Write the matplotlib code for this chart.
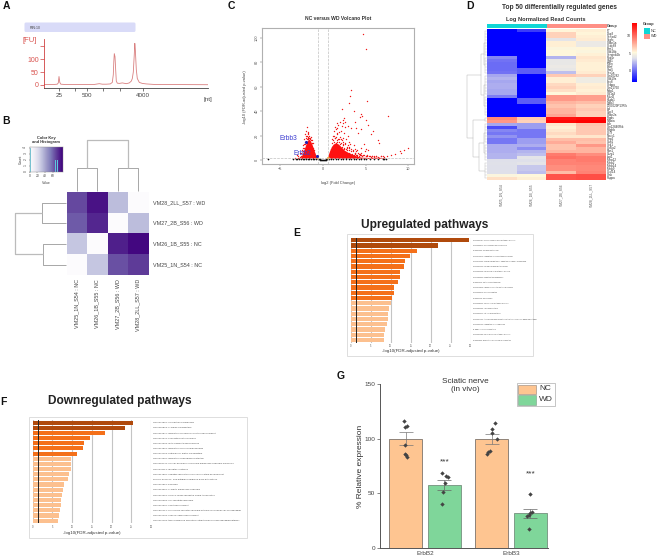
import numpy as np
import matplotlib
matplotlib.use('Agg')
import matplotlib.pyplot as plt
from matplotlib.colors import LinearSegmentedColormap, ListedColormap
from matplotlib.patches import Rectangle, FancyBboxPatch

plt.rcParams['font.family'] = ['Liberation Sans', 'DejaVu Sans']

W, H = 657, 558

# A: electropherogram
trace_pos = [0, 10, 13, 14, 14.7, 15.5, 16.5, 20, 50, 55, 58, 62, 66, 68, 69, 69.5, 70, 70.7, 71.5, 72, 73, 75, 78, 82,
             85, 87, 88, 89, 90, 90.5, 91, 92, 93, 95, 98, 102, 110, 163.7]
trace_fu = [2, 2, 3, 8, 33, 10, 3, 2, 2, 5, 3, 3, 4, 10, 40, 90, 122, 110, 50, 15, 7, 6, 8, 5,
            8, 15, 25, 50, 120, 162, 140, 60, 25, 10, 6, 4, 2, 1]
nt_ticks = [14.7, 31, 42.7, 58.3, 75.7, 98.7]
nt_labels = ['25', '', '500', '', '', '4000']

# B: sample distance heatmap
samples_row = ['VM28_2LL_S57 : WD', 'VM27_2B_S56 : WD', 'VM26_1B_S55 : NC', 'VM25_1N_S54 : NC']
samples_col = ['VM25_1N_S54 : NC', 'VM26_1B_S55 : NC', 'VM27_2B_S56 : WD', 'VM28_2LL_S57 : WD']
dist = [[62, 75, 30, 0],
        [58, 70, 0, 30],
        [27, 0, 72, 78],
        [0, 27, 60, 65]]
key_vals = [27, 63, 67, 72, 76]
key_counts = [2, 2, 2, 2, 2]

# C: volcano
red_x = [-3.3, -3.0, -2.9, -2.7, -2.6, -2.5, -2.4, -2.4, -2.3, -2.3, -2.2, -2.2, -2.1, -2.1, -2.0, -2.0, -1.9, -1.9, -1.8,
         -1.8, -1.7, -1.7, -1.6, -1.6, -1.5, -1.4, -1.3, -1.2, -1.1, -1.0, -0.9, 0.9, 1.0, 1.0, 1.1, 1.1, 1.2, 1.2, 1.3, 1.3,
         1.4, 1.4, 1.5, 1.5, 1.6, 1.6, 1.7, 1.7, 1.8, 1.8, 1.9, 1.9, 2.0, 2.0, 2.1, 2.1, 2.2, 2.2, 2.3, 2.3, 2.4, 2.5, 2.5,
         2.6, 2.6, 2.7, 2.8, 2.8, 2.9, 3.0, 3.0, 3.1, 3.2, 3.2, 3.3, 3.3, 3.4, 3.5, 3.6, 3.6, 3.7, 3.8, 3.9, 4.0, 4.0, 4.1,
         4.2, 4.3, 4.4, 4.5, 4.5, 4.6, 4.7, 4.8, 4.9, 5.0, 5.0, 5.2, 5.3, 5.5, 5.6, 5.8, 6.0, 6.2, 6.4, 6.6, 6.8, 7.0, 7.1,
         7.5, 8.0, 8.5, 9.0, 9.1, 9.5, 10.0, 3.3, 3.2, 3.0, 3.6, 4.5, 5.2, 4.6, 5.0, 5.0, 7.6, 2.2, 2.5, 2.6, 2.4, 2.9,
         3.7, 3.9, 4.3, 4.7, 5.3, 5.9, 6.6,
         1.2, 1.4, 1.6, 1.8, 2.0, 2.2, 2.4, 2.6, 2.8, 3.0, 1.3, 1.5, 1.7, 1.9, 2.1, 2.3, 2.5, 2.7, 2.9, 3.1,
         3.3, 3.5, 3.7, 3.9, 4.1, 4.3, 3.4, 3.6, 3.8, 4.0, 4.2, 4.4, 4.6, 4.8, 5.0, 5.2, 5.4, 5.6, 5.8, 6.0, 6.2, 6.5, 6.8, 7.2,
         -2.6, -2.4, -2.2, -2.5, -2.3, -2.1, -1.9, -2.0, -1.8, -1.6, -1.7, -1.5, -1.4, -1.3, -1.2, -2.8, -2.7, -2.9]
red_y = [2, 4, 2, 6, 3, 8, 5, 2, 12, 7, 17, 10, 21, 13, 24, 18, 27, 20, 23, 18, 22, 17, 20, 16, 18, 16, 14, 10, 8, 6, 4, 9, 6, 14,
         17, 11, 20, 8, 24, 15, 18, 27, 25, 14, 21, 30, 16, 26, 29, 12, 23, 17, 19, 31, 14, 24, 28, 11, 18, 33, 15, 9, 22,
         13, 27, 17, 8, 11, 20, 6, 15, 10, 5, 13, 9, 26, 4, 7, 12, 3, 9, 6, 4, 8, 3, 22, 5, 4, 10, 6, 25, 3, 4, 13, 7, 3, 9, 4, 8, 3, 21, 3,
         3, 3, 16, 2, 3, 3, 2, 3, 4, 5, 7, 6, 8, 10, 57, 52, 47, 40, 38, 48, 36, 33, 91, 36, 42, 34, 31, 30, 28, 31, 26, 35, 103, 29, 24, 14,
         16, 18, 15, 17, 13, 16, 12, 14, 10, 11, 20, 19, 22, 15, 17, 13, 10, 9, 12, 8,
         7, 8, 6, 7, 6, 5, 5, 4, 5, 4, 3.5, 4, 3, 4, 3, 3.5, 3, 2.5, 3.5, 2.5, 3, 2.5, 3.5, 2.5,
         6, 10, 13, 3, 5, 15, 17, 20, 19, 18, 21, 17, 19, 16, 14, 2, 2.5, 3.5]
left_env_x = [-2.7, -2.5, -2.3, -2.1, -1.9, -1.7, -1.5, -1.3, -1.1, -0.9, -0.7]
left_env_y = [1.5, 3.5, 7, 11, 15, 17, 16, 13, 9, 5, 1.5]
right_env_x = [0.45, 0.6, 0.8, 1.0, 1.2, 1.5, 1.8, 2.1, 2.5, 3, 3.5, 4, 4.5, 5.5, 6.5, 7.3]
right_env_y = [1.3, 4, 8, 11, 13, 14, 13, 11, 8, 6, 4.5, 3, 2.3, 2, 2.3, 1.5]
black_x = [-6.4, -3.5, -3.2, -3.0, -2.8, -2.6, -2.4, -2.2, -2.0, -1.8, -1.6, -1.4, -1.2, -1.0, -0.8, -0.6, -0.5, -0.4, -0.3, -0.2,
           -0.1, 0.0, 0.1, 0.2, 0.3, 0.4, 0.5, 0.7, 0.9, 1.2, 1.5, 1.8, 2.1, 2.4, 2.7, 3.0, 3.3, 3.6, 3.9, 4.2, 4.5, 4.8,
           5.1, 5.5, 6.0, 6.5, 7.0, 7.2, 7.4]
black_y = [0.9, 1, 1, 0.8, 1, 0.9, 1, 0.7, 1, 0.8, 1, 0.9, 0.7, 1, 0.8, 1, 0.6, 0.5, 0.3, 0.2,
           0.1, 0.1, 0.1, 0.2, 0.3, 0.5, 0.7, 0.9, 0.8, 1, 0.7, 1, 0.8, 1, 0.9, 1, 0.8, 1, 0.6, 1, 0.9, 0.7,
           1, 0.8, 1, 0.7, 1, 0.6, 0.9]
orange_x = [-0.75, -0.7, -0.65, -0.6, -0.55, 0.45, 0.5, 0.55, 0.6, 0.65]
orange_y = [1.6, 2.3, 2.6, 1.8, 1.4, 1.4, 1.8, 2.6, 2.2, 1.6]
erbb_x = [-2.0, -0.74]
erbb_y = [14.7, 3]
erbb_names = ['Erbb3', 'Erbb2']

# D: top 50 genes heatmap
genes = ['F7', 'Dap3', 'Sertad2', 'Vegfc', 'Cdkn1a', 'Ccdc68', 'Bmi1', 'Cdk18b', 'Serpinb2b', 'Ppp1r', 'Sgk1', 'Mbln', 'Bdnf',
         'Stat5', 'Sec1a', 'Gm10282', 'Cdk19a', 'Lhx8', 'Cebpa', 'Gm21760', 'Mgp1', 'Slc1a3', 'Mpzl2', 'Hspb1', 'Tgfb3',
         '1700029P13Rik', 'Lpl', 'Gpx3', 'Cdkn2a', 'Ptgds', 'Nfkbia', 'Ldlr', 'Gm12840Rik', 'Pdgfrb', 'Ccl9', 'Nfatc1',
         'Sfrp2', 'Gstt1', 'Scd1', 'Col5a2', 'Fbn1', 'Csrp1', 'Lsp1', 'Mmp12', 'Mmp2', 'Mmp14', 'Mmp9', 'Cxcl14', 'Ctsk', 'Pappa']
expr_nc1 = [-3.3, -3.3, -3.3, -3.3, -3.3, -3.3, -3.3, -3.3, -3.3, 0.8, 0.2, 0.0, 0.0, 0.0, 0.2, 1.8, 2.2, 1.8, 2.0, 2.0, 1.8,
            1.8, 0.5, -3.3, -3.3, -3.3, -3.3, -3.3, -3.3, 9.0, 8.5, 1.8, -1.0, 0.8, 0.3, 1.2, 0.3, 0.3, 2.0, 2.0, 2.0, 2.2, 2.2,
            3.5, 3.6, 3.5, 3.5, 3.5, 5.0, 6.0]
expr_nc2 = [-1.5, -3.3, -3.3, -3.3, -3.3, -3.3, -3.3, -3.3, -3.3, -3.3, -3.3, -3.3, -3.3, -0.5, -0.5, -3.3, -3.3, -3.3, -3.3,
            -3.3, -3.3, -3.3, -3.3, -0.5, -0.5, -3.3, -3.3, -3.3, -3.3, 6.8, 6.5, 1.5, 1.5, 0.3, 0.3, 0.3, 1.5, 1.5, 2.0, 1.0,
            2.2, 2.5, 3.8, 3.5, 3.8, 2.8, 2.8, 2.5, 5.2, 5.5]
expr_wd1 = [5.3, 6.5, 6.5, 3.8, 5.5, 5.5, 5.0, 5.2, 5.2, 2.2, 4.0, 4.0, 4.2, 4.0, 2.5, 6.8, 5.5, 5.5, 6.2, 6.5, 6.0, 5.2, 8.5,
            8.5, 7.5, 7.0, 7.5, 7.5, 8.0, 13.0, 13.5, 5.8, 5.5, 5.8, 6.2, 5.8, 7.2, 7.8, 7.0, 7.0, 7.5, 9.5, 9.8, 9.2, 9.2, 8.8,
            8.8, 7.2, 10.8, 10.8]
expr_wd2 = [5.5, 5.3, 5.5, 5.6, 4.2, 4.2, 5.3, 5.0, 5.4, 5.8, 5.6, 5.4, 5.4, 5.4, 5.6, 6.5, 4.4, 4.4, 5.5, 5.6, 5.4, 5.6, 8.2,
            8.2, 7.2, 6.5, 6.8, 6.5, 6.5, 13.3, 13.7, 7.0, 6.8, 6.8, 6.8, 5.8, 7.2, 7.0, 8.5, 7.5, 7.5, 8.8, 9.5, 9.5, 9.2, 9.0,
            9.0, 9.2, 11, 11]
d_samples = ['VM25_1N_S54', 'VM26_1B_S55', 'VM27_2B_S56', 'VM28_2LL_S57']
d_groups = [0, 0, 1, 1]
d_tree = [20, [6, [3, (0, 8), (9, 14)], [3, (15, 21), (22, 28)]], [14, (29, 30), [8, [3, (31, 37), (38, 43)], (44, 49)]]]

# E: upregulated pathways
up_terms = ['GO:0032787: monocarboxylic acid metabolic process', 'GO:0048514: blood vessel morphogenesis',
            'mmu01200: Carbon metabolism', 'GO:0019216: regulation of lipid metabolic process',
            'GO:0015980: energy derivation by oxidation of organic compounds', 'GO:0044262: cellular carbohydrate process',
            'GO:0046395: carboxylic acid catabolic process', 'GO:1990845: adaptive thermogenesis',
            'mmu01212: Fatty acid metabolism', 'GO:0019693: ribose phosphate metabolic process',
            'GO:0008015: blood circulation', 'mmu04146: Peroxisome', 'GO:0006639: acylglycerol metabolic process',
            'GO:0055088: lipid homeostasis', 'GO:0045444: fat cell differentiation',
            'GO:0007169: transmembrane receptor protein tyrosine kinase signaling pathway',
            'GO:0030155: regulation of cell adhesion', 'R-MMU-109582: Hemostasis',
            'GO:0044282: small molecule catabolic process', 'mmu04923: Regulation of lipolysis in adipocytes']
up_vals = [29.5, 21.8, 16.5, 14.8, 13.6, 13.3, 12.3, 12.2, 11.7, 10.8, 10.75, 10.3, 10, 9.6, 9.25, 9.2, 9.1, 8.6, 8.3, 8.25]
up_shades = [0, 0, 1, 1, 1, 1, 1, 1, 1, 1, 1, 1, 2, 2, 2, 2, 2, 2, 2, 2]

# F: downregulated pathways
down_terms = ['GO:0032990: cell part morphogenesis', 'GO:0050808: synapse organization',
              'GO:0010975: regulation of neuron projection development', 'GO:0007272: ensheathment of neurons',
              'GO:0030029: actin filament-based process', 'GO:0022604: regulation of cell morphogenesis',
              'GO:0030198: extracellular matrix organization', 'GO:0042391: regulation of membrane potential',
              'GO:0098742: cell-cell adhesion via plasma-membrane adhesion molecules', 'GO:0043113: receptor clustering',
              'GO:0051961: negative regulation of nervous system development',
              'R-MMU-3000171: Non-integrin membrane-ECM interactions', 'GO:0007610: behavior',
              'GO:0099560: synaptic membrane adhesion', 'GO:0007264: small GTPase mediated signal transduction',
              'GO:0031589: cell-substrate adhesion', 'GO:0007507: heart development',
              'GO:1905114: cell surface receptor signaling pathway involved in cell-cell signaling',
              'GO:0007423: sensory organ development',
              'GO:0007169: transmembrane receptor protein tyrosine kinase signaling pathway']
down_vals = [25.4, 23.3, 18.3, 14.5, 13.1, 12.7, 11.3, 9.8, 9.6, 9.6, 9.3, 9, 7.9, 7.8, 7.5, 7.2, 7.1, 6.8, 6.7, 6.5]
down_shades = [0, 0, 1, 1, 1, 1, 1, 2, 2, 2, 2, 2, 2, 2, 2, 2, 2, 2, 2, 2]

# G: qPCR bars
g_genes = ['ErbB2', 'ErbB3']
g_nc = [100, 100]
g_wd = [58, 31.6]
g_nc_err = [6, 4.5]
g_wd_err = [4.5, 4.1]
g_nc_pts = [[116, 111, 112, 94, 86, 85, 83.4], [114, 109, 105, 100, 89, 88, 86]]
g_wd_pts = [[69, 66, 65, 59, 51.4, 40], [49, 32.6, 31.7, 30.4, 29, 17]]
g_nc_jit = [[-0.02, -0.01, 0.01, -0.01, -0.005, 0.005, 0.015], [0.035, 0.005, 0.005, 0.06, -0.025, -0.04, -0.055]]
g_wd_jit = [[-0.03, 0.02, 0.045, 0.005, -0.01, -0.03], [0.0, 0.015, 0.0, -0.02, -0.035, -0.01]]

fig = plt.figure(figsize=(W / 100, H / 100), dpi=100)


def axpx(x0, y0, x1, y1):
    # axes from pixel box, y measured from the top
    return fig.add_axes([x0 / W, 1 - y1 / H, (x1 - x0) / W, (y1 - y0) / H])


# overlay in pixel coordinates for the loose text
bg = fig.add_axes([0, 0, 1, 1])
bg.set_xlim(0, W)
bg.set_ylim(H, 0)
bg.axis('off')

for letter, lx, ly in [('A', 6, 6), ('B', 6, 121), ('C', 231, 6), ('D', 470, 6), ('E', 297, 233), ('F', 3, 402), ('G', 341, 376)]:
    bg.text(lx, ly, letter, fontsize=7.5, fontweight='bold', ha='center', va='center', color='#111111')

# ---- A ----
bg.add_patch(FancyBboxPatch((26, 24), 108, 6.5, boxstyle='round,pad=1.5', fc='#d9dbf8', ec='none'))
bg.text(30, 28, 'RIN:10', fontsize=2.5, va='center', color='#444444')
bg.text(30, 40, '[FU]', fontsize=5.5, color='#d9534f', ha='center', va='center')
bg.text(208, 100, '[nt]', fontsize=4.5, color='#444444', ha='center', va='center')
ax = axpx(44.3, 39, 208, 88.3)
ax.plot(trace_pos, trace_fu, color='#d98080', lw=0.6)
ax.set_xlim(0, 163.7)
ax.set_ylim(-13, 179)
for s in ['top', 'right']:
    ax.spines[s].set_visible(False)
ax.spines['left'].set_color('#d04040')
ax.spines['left'].set_linewidth(0.6)
ax.spines['bottom'].set_color('#444444')
ax.spines['bottom'].set_linewidth(0.6)
ax.set_xticks(nt_ticks)
ax.set_xticklabels(nt_labels, fontsize=4.5, color='#444444')
ax.set_yticks([0, 50, 100, 150])
ax.set_yticklabels(['0', '50', '100', ''], fontsize=5, color='#d9534f')
ax.tick_params(axis='x', length=2.5, width=0.5, pad=1, color='#444444')
ax.tick_params(axis='y', length=3, width=0.5, pad=1, color='#d04040')

# ---- B ----
ax = axpx(66.5, 192, 148.5, 275)
ax.pcolormesh(np.array(dist)[::-1], cmap='Purples', vmin=0, vmax=80)
ax.axis('off')
for i, name in enumerate(samples_row):
    bg.text(153, 202.5 + i * 20.7, name, fontsize=3.9, color='#444444', va='center')
for i, name in enumerate(samples_col):
    bg.text(76.7 + i * 20.5, 279, name, fontsize=3.9, color='#444444', rotation=90, ha='center', va='top')


def bracket(a, b, hy, ya, yb, horizontal, color, lw):
    xs = [ya, hy, hy, yb]
    ys = [a, a, b, b]
    if horizontal:
        bg.plot(xs, ys, color=color, lw=lw, solid_capstyle='butt')
    else:
        bg.plot(ys, xs, color=color, lw=lw, solid_capstyle='butt')


bracket(76.7, 97.2, 168, 191, 191, False, '#999999', 0.6)
bracket(117.7, 138.2, 168, 191, 191, False, '#999999', 0.6)
bracket(87, 128, 140, 168, 168, False, '#bbbbbb', 0.9)
bracket(202.5, 223.2, 41.6, 66, 66, True, '#999999', 0.6)
bracket(243.9, 264.6, 42.6, 66, 66, True, '#999999', 0.6)
bracket(213, 254, 14.7, 41.6, 42.6, True, '#bbbbbb', 0.9)

ax = axpx(29.5, 147, 62.5, 172)
ax.imshow(np.linspace(0, 80, 100)[None, :], cmap='Purples', vmin=0, vmax=80, aspect='auto', extent=[0, 85, 0, 4.1])
ax.bar(key_vals, key_counts, width=1.8, color='#5cc8e0')
ax.plot([0, 0], [0, 4], color='#5cc8e0', lw=0.6)
ax.set_xlim(0, 85)
ax.set_ylim(0, 4.1)
ax.set_xticks([0, 20, 40, 60])
ax.set_yticks([0, 1, 2, 3, 4])
ax.tick_params(labelsize=2.4, length=1, width=0.3, pad=0.5, colors='#444444')
ax.tick_params(axis='y', labelrotation=90)
for s in ax.spines.values():
    s.set_linewidth(0.3)
    s.set_color('#888888')
bg.text(46, 144.5, 'Color Key\nand Histogram', fontsize=2.9, fontweight='bold', ha='center', va='bottom', color='#333333', linespacing=1.1)
bg.text(46, 183, 'Value', fontsize=2.5, ha='center', va='center', color='#444444')
bg.text(21, 159.5, 'Count', fontsize=2.5, ha='center', va='center', rotation=90, color='#444444')

# ---- C ----
ax = axpx(262, 28, 414, 164)
ax.fill_between(left_env_x, 1.3, left_env_y, color='#ff1010', lw=0)
ax.fill_between(right_env_x, 1.3, right_env_y, color='#ff1010', lw=0)
ax.scatter(red_x, red_y, s=1.0, color='#f01818', lw=0)
ax.scatter(black_x, black_y, s=1.5, color='#111111', lw=0)
ax.scatter(orange_x, orange_y, s=1.2, color='#f0a030', lw=0)
ax.axvline(-0.6, color='#c0c0c0', lw=0.5, ls='--')
ax.axvline(0.6, color='#c0c0c0', lw=0.5, ls='--')
ax.axhline(1.3, color='#c0c0c0', lw=0.5, ls='--')
ax.scatter(erbb_x, erbb_y, s=5, color='#2020b0', lw=0, zorder=3)
ax.text(-4.1, 17.5, erbb_names[0], fontsize=4.8, color='#3a3ad0', ha='center', va='center')
ax.text(-2.4, 5.7, erbb_names[1], fontsize=4.8, color='#3a3ad0', ha='center', va='center')
ax.set_xlim(-7.15, 10.67)
ax.set_ylim(-3.3, 108)
ax.set_xticks([-5, 0, 5, 10])
ax.set_yticks([0, 20, 40, 60, 80, 100])
ax.tick_params(labelsize=2.8, length=1.5, width=0.3, pad=1, colors='#555555')
ax.tick_params(axis='y', labelrotation=90)
for lab in ax.get_yticklabels():
    lab.set_va('center')
for s in ax.spines.values():
    s.set_color('#b0b0b0')
    s.set_linewidth(0.8)
bg.text(338, 18, 'NC versus WD Volcano Plot', fontsize=3.6, fontweight='bold', ha='center', va='center', color='#333333')
bg.text(338, 183, 'log2 (Fold Change)', fontsize=2.9, ha='center', va='center', color='#444444')
bg.text(245, 97, '-log10 (FDR-adjusted p-value)', fontsize=2.9, rotation=90, ha='center', va='center', color='#444444')

# ---- D ----
bg.text(559, 7.5, 'Top 50 differentially regulated genes', fontsize=4.8, fontweight='bold', ha='center', va='center', color='#333333')
bg.text(546, 19, 'Log Normalized Read Counts', fontsize=4.1, fontweight='bold', ha='center', va='center', color='#333333')
hm_cmap = LinearSegmentedColormap.from_list('hm', [(0, '#0000ff'), (0.40, '#dfe0ea'), (0.50, '#fff8dc'), (1, '#ff0000')])
expr = np.array([expr_nc1, expr_nc2, expr_wd1, expr_wd2]).T
ax = axpx(486.7, 29, 606, 180)
mesh = ax.pcolormesh(expr, cmap=hm_cmap, vmin=-3.3, vmax=13.7)
ax.set_ylim(50, 0)
ax.axis('off')
ax = axpx(486.7, 24, 606, 28)
ax.imshow([d_groups], cmap=ListedColormap(['#0fd6d6', '#ff8f85']), aspect='auto')
ax.axis('off')
bg.text(607, 26, 'Group', fontsize=2.6, fontweight='bold', va='center', color='#333333')
for i, g in enumerate(genes):
    bg.text(607, 30.5 + i * 3.02, g, fontsize=2.2, va='center', color='#333333')
for i, name in enumerate(d_samples):
    bg.text(501.6 + i * 29.8, 183, name, fontsize=2.4, rotation=90, ha='center', va='top', color='#555555')
cax = axpx(632, 23, 636.7, 82)
cb = fig.colorbar(mesh, cax=cax, ticks=[0, 5, 10])
cb.ax.tick_params(labelsize=2.6, length=0, pad=0.8, colors='#333333')
cb.outline.set_visible(False)
cax.yaxis.set_ticks_position('left')
bg.text(649, 24, 'Group', fontsize=2.8, fontweight='bold', ha='center', va='center', color='#333333')
bg.add_patch(Rectangle((644, 28), 5.7, 5.5, fc='#0fd6d6', ec='none'))
bg.add_patch(Rectangle((644, 33.5), 5.7, 5.5, fc='#ff8f85', ec='none'))
bg.text(651, 30.7, 'NC', fontsize=2.8, va='center', color='#333333')
bg.text(651, 36.2, 'WD', fontsize=2.8, va='center', color='#333333')


def draw_tree(node):
    # returns (row position, height) of a node and draws its brackets
    if isinstance(node, tuple):
        a, b = node
        bg.plot([484.5] * 2, [29 + (a + 0.5) * 3.02, 29 + (b + 0.5) * 3.02], color='#aaaaaa', lw=0.25)
        for r in range(a, b + 1):
            bg.plot([484.5, 486.7], [29 + (r + 0.5) * 3.02] * 2, color='#aaaaaa', lw=0.2)
        return 29 + (a + b + 1) / 2 * 3.02, 484.5
    h, left, right = node
    y1, x1 = draw_tree(left)
    y2, x2 = draw_tree(right)
    x = 486.7 - h
    bg.plot([x1, x, x, x2], [y1, y1, y2, y2], color='#aaaaaa', lw=0.3)
    return (y1 + y2) / 2, x


draw_tree(d_tree)


# ---- E / F ----
def pathway_panel(box, area, vals, terms, shades, text_x, text_size):
    bg.add_patch(Rectangle((box[0], box[1]), box[2] - box[0], box[3] - box[1], fc='white', ec='#dddddd', lw=0.7))
    a = axpx(*area)
    cols = [['#b04a0c', '#f4701a', '#fcc08f'][s] for s in shades]
    pos = np.arange(len(vals))
    a.barh(pos, vals, height=0.8, color=cols, zorder=3)
    a.set_ylim(len(vals) - 0.5, -0.5)
    a.set_xlim(0, 30)
    a.set_xticks([0, 5, 10, 15, 20, 25, 30])
    a.set_yticks([])
    a.grid(axis='x', color='#c4c4c4', lw=0.8, zorder=1)
    a.set_axisbelow(True)
    a.axvline(1.3, color='#222222', lw=0.7, zorder=4)
    a.tick_params(labelsize=1.8, length=0, pad=1, colors='#555555')
    for s in a.spines.values():
        s.set_visible(False)
    row_h = (area[3] - area[1]) / len(vals)
    for i, t in enumerate(terms):
        bg.text(text_x, area[1] + (i + 0.5) * row_h, t, fontsize=text_size, va='center', color='#444444')


bg.text(425, 225, 'Upregulated pathways', fontsize=8.6, fontweight='bold', ha='center', va='center', color='#222222')
pathway_panel((347, 234, 533, 356), (350.7, 237.7, 470.7, 342.7), up_vals, up_terms, up_shades, 472.7, 1.25)
bg.text(410.7, 350.7, '-log10(FDR-adjusted p-value)', fontsize=3.2, ha='center', va='center', color='#333333')

bg.text(120, 401, 'Downregulated pathways', fontsize=8.6, fontweight='bold', ha='center', va='center', color='#222222')
pathway_panel((29, 416.7, 246.7, 538), (32.7, 420, 151, 523.3), down_vals, down_terms, down_shades, 153.3, 1.7)
bg.text(92, 532.7, '-log10(FDR-adjusted p-value)', fontsize=3.2, ha='center', va='center', color='#333333')

# ---- G ----
ax = axpx(380, 384, 548, 548)
x = np.arange(len(g_genes))
off, bw = 0.224, 0.384
ax.bar(x - off, g_nc, bw, color='#fec591', edgecolor='#8f8378', lw=0.7, zorder=1)
ax.bar(x + off, g_wd, bw, color='#7fd69a', edgecolor='#7f9c88', lw=0.7, zorder=1)
for i in range(len(g_genes)):
    ax.errorbar(x[i] - off, g_nc[i], yerr=g_nc_err[i], color='#777777', capsize=5, lw=0.5, capthick=0.5, zorder=2)
    ax.errorbar(x[i] + off, g_wd[i], yerr=g_wd_err[i], color='#666666', capsize=5, lw=0.5, capthick=0.5, zorder=2)
    ax.scatter(x[i] - off + np.array(g_nc_jit[i]), g_nc_pts[i], s=5, marker='D', color='#444444', lw=0, zorder=3)
    ax.scatter(x[i] + off + np.array(g_wd_jit[i]), g_wd_pts[i], s=5, marker='D', color='#444444', lw=0, zorder=3)
ax.text(x[0] + off, 79, '***', fontsize=6, ha='center', va='center', color='#333333')
ax.text(x[1] + off, 68, '***', fontsize=6, ha='center', va='center', color='#333333')
ax.set_xlim(-0.523, 1.43)
ax.set_ylim(0, 150)
ax.set_xticks(x)
ax.set_xticklabels(g_genes, fontsize=4.6, color='#444444')
ax.set_yticks([0, 50, 100, 150])
ax.tick_params(axis='y', labelsize=4.6, length=2, width=0.5, pad=1.5, labelcolor='#444444', color='#555555')
ax.tick_params(axis='x', length=0, pad=2.5)
ax.set_ylabel('% Relative expression', fontsize=6, color='#333333', labelpad=0.5)
for s in ['top', 'right']:
    ax.spines[s].set_visible(False)
ax.spines['left'].set_color('#555555')
ax.spines['bottom'].set_color('#555555')
ax.spines['left'].set_linewidth(0.7)
ax.spines['bottom'].set_linewidth(0.7)
ax.patch.set_alpha(0)

bg.text(465, 385.5, 'Sciatic nerve\n(in vivo)', fontsize=5.9, ha='center', va='center', color='#333333', linespacing=1.2)
bg.add_patch(Rectangle((516.7, 383), 38, 22.7, fc='white', ec='#bbbbbb', lw=0.6))
bg.add_patch(Rectangle((518, 384.5), 18, 9.5, fc='#fec591', ec='#8f8378', lw=0.4))
bg.add_patch(Rectangle((518, 395), 18, 9.5, fc='#7fd69a', ec='#7f9c88', lw=0.4))
bg.text(539, 389, 'NC', fontsize=6, va='center', color='#333333')
bg.text(539, 399.5, 'WD', fontsize=6, va='center', color='#333333')

fig.savefig('out.png', dpi=100)
